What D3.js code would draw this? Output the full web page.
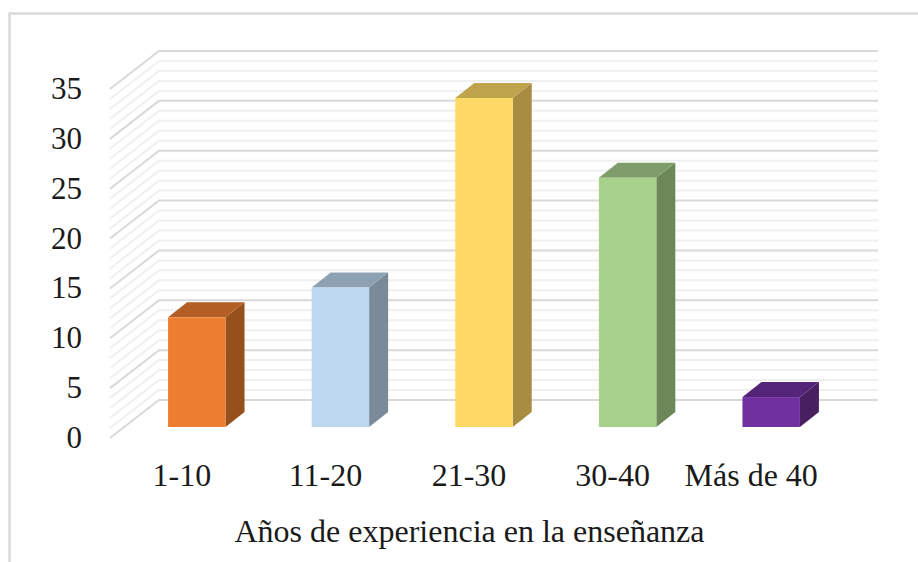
<!DOCTYPE html>
<html>
<head>
<meta charset="utf-8">
<script src="https://cdn.jsdelivr.net/npm/d3@7/dist/d3.min.js"></script>
<style>
  html, body { margin: 0; padding: 0; background: #fff; }
  svg { display: block; }
  text { font-family: "Liberation Serif", serif; fill: #1a1a1a; }
</style>
</head>
<body>
<script>
var categories = ["1-10", "11-20", "21-30", "30-40", "Más de 40"];
var counts = [11, 14, 33, 25, 3];
var barColors = ["#ed7d31", "#bdd7ee", "#ffd966", "#a9d18e", "#7030a0"];
var topColors = ["#b25e25", "#8ea1b3", "#bfa34d", "#7f9d6b", "#542478"];
var sideColors = ["#96501b", "#7a8a99", "#a68d42", "#6d8759", "#48205f"];
var yTicks = [0, 5, 10, 15, 20, 25, 30, 35];
var minorSteps = d3.range(0, 36);
var axisTitle = "Años de experiencia en la enseñanza";

var width = 918, height = 562;

// 3d wall and floor offsets
var wallDx = 49, wallDy = -38;
var barShiftX = 15, barShiftY = -11;
var barDx = 19, barDy = -15;

var y = d3.scaleLinear().domain([0, 35]).range([438, 89]);
var x = d3.scaleBand().domain(categories).range([110, 828]).paddingInner(0.6).paddingOuter(0.3);
var labelX = d3.scaleBand().domain(categories).range([110, 828]);

var svg = d3.select("body").append("svg")
    .attr("width", width)
    .attr("height", height);

svg.append("path")
    .attr("d", "M9.5," + height + "V13.5H" + width)
    .attr("fill", "none")
    .attr("stroke", "#d9d9d9")
    .attr("stroke-width", 2.5);

// gridlines: side wall then back wall
svg.selectAll("path.grid")
    .data(minorSteps)
    .enter()
    .append("path")
    .attr("class", "grid")
    .attr("fill", "none")
    .attr("stroke", function (d) { return d % 5 === 0 ? "#d9d9d9" : "#f0f0f0"; })
    .attr("stroke-width", 2)
    .attr("d", function (d) {
        return "M110," + y(d) + "L" + (110 + wallDx) + "," + (y(d) + wallDy) + "H878";
    });

var bars = svg.selectAll("g.bar")
    .data(counts)
    .enter()
    .append("g")
    .attr("class", "bar");

function barLeft(d, i) { return x(categories[i]) + barShiftX; }
function barBase() { return y(0) + barShiftY; }
function barTop(d) { return y(d) + barShiftY; }

bars.append("path")
    .attr("fill", function (d, i) { return sideColors[i]; })
    .attr("d", function (d, i) {
        var r = barLeft(d, i) + x.bandwidth();
        return "M" + r + "," + barTop(d) + "l" + barDx + "," + barDy + "V" + (barBase() + barDy) + "L" + r + "," + barBase() + "Z";
    });

bars.append("path")
    .attr("fill", function (d, i) { return topColors[i]; })
    .attr("d", function (d, i) {
        return "M" + barLeft(d, i) + "," + barTop(d) + "l" + barDx + "," + barDy + "h" + x.bandwidth() + "l" + (-barDx) + "," + (-barDy) + "Z";
    });

bars.append("rect")
    .attr("x", barLeft)
    .attr("y", barTop)
    .attr("width", x.bandwidth())
    .attr("height", function (d) { return barBase() - barTop(d); })
    .attr("fill", function (d, i) { return barColors[i]; });

svg.selectAll("text.ytick")
    .data(yTicks)
    .enter()
    .append("text")
    .attr("class", "ytick")
    .attr("x", 82)
    .attr("y", function (d) { return y(d) + 10; })
    .attr("text-anchor", "end")
    .attr("font-size", 31)
    .text(function (d) { return d; });

svg.selectAll("text.cat")
    .data(categories)
    .enter()
    .append("text")
    .attr("class", "cat")
    .attr("x", function (d, i) { return labelX(d) + labelX.bandwidth() / 2 - (i === 4 ? 5 : 0); })
    .attr("y", 486)
    .attr("text-anchor", "middle")
    .attr("font-size", 32)
    .text(function (d) { return d; });

svg.append("text")
    .attr("x", 469.5)
    .attr("y", 542)
    .attr("text-anchor", "middle")
    .attr("font-size", 32)
    .text(axisTitle);
</script>
</body>
</html>
